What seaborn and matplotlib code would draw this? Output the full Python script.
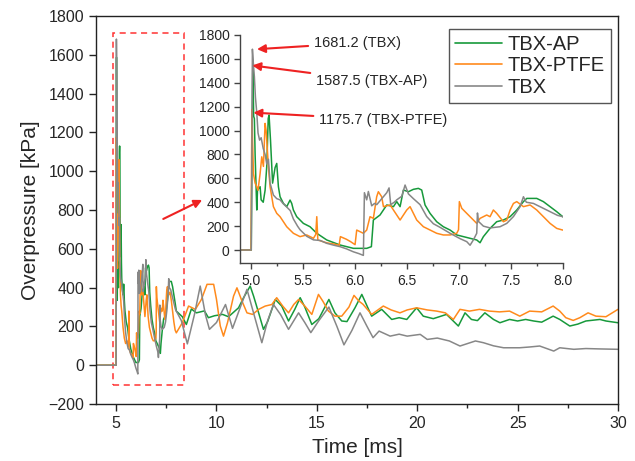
import matplotlib
matplotlib.use("Agg")
import matplotlib.pyplot as plt
import pandas as pd
import seaborn as sns
from matplotlib.patches import Rectangle
from matplotlib.ticker import MultipleLocator, FormatStrFormatter

sns.set_style("ticks")
plt.rcParams["font.family"] = ["Liberation Sans", "DejaVu Sans"]

# ---- measured overpressure traces (time in ms, pressure in kPa) ----
ap_t = [4.0, 5.005, 5.015, 5.02, 5.028, 5.035, 5.042, 5.055, 5.058, 5.065,
        5.09, 5.10, 5.12, 5.138, 5.154, 5.168, 5.176, 5.19, 5.21, 5.234,
        5.25, 5.266, 5.282, 5.314, 5.346, 5.378, 5.394, 5.41, 5.442, 5.506,
        5.57, 5.635, 5.731, 5.859, 5.987, 6.115, 6.16, 6.179, 6.243, 6.308,
        6.372, 6.404, 6.436, 6.468, 6.516, 6.564, 6.612, 6.644, 6.676, 6.724,
        6.788, 6.852, 6.917, 6.981, 7.045, 7.109, 7.173, 7.205, 7.237, 7.301,
        7.365, 7.429, 7.494, 7.558, 7.622, 7.654, 7.75, 7.814, 7.878, 7.942,
        8.0,
        8.3, 8.5, 8.75, 9.0, 9.4, 9.6, 9.9, 10.3, 10.6, 11.1,
        11.35, 11.68, 11.85, 12.1, 12.34, 12.55, 12.93, 13.25, 13.59, 13.9,
        14.17, 14.4, 14.75, 15.1, 15.6, 15.9, 16.24, 16.5, 16.9, 17.24,
        17.73, 18.23, 18.73, 19.1, 19.48, 19.97, 20.3, 20.8, 21.46, 22.05,
        22.38, 22.7, 23.0, 23.37, 23.8, 24.12, 24.6, 25.0, 25.4, 25.8,
        26.2, 26.77, 27.1, 27.6, 28.0, 28.4, 29.1, 29.4, 30.0]
ap_p = [0, 0, 1200, 1587.5, 1120, 1100, 800, 400, 335, 500,
        530, 420, 400, 500, 700, 1100, 1130, 920, 560, 690,
        725, 530, 446, 390, 363, 418, 390, 335, 279, 223,
        195, 140, 84, 42, 14, 14, 28, 251, 293, 377,
        363, 405, 363, 502, 488, 508, 516, 502, 377, 307,
        237, 195, 167, 126, 112, 98, 84, 61, 112, 181,
        237, 251, 279, 335, 405, 432, 432, 405, 363, 321,
        279,
        250, 210, 290, 270, 280, 245, 255, 262, 250, 296,
        348, 408, 356, 270, 185, 225, 339, 305, 228, 288,
        348, 300, 210, 240, 339, 270, 228, 225, 296, 365,
        253, 288, 236, 245, 236, 296, 253, 240, 262, 202,
        270, 236, 230, 270, 236, 219, 236, 228, 236, 228,
        222, 253, 236, 202, 212, 228, 236, 228, 219]

ptfe_t = [4.0, 5.003, 5.008, 5.012, 5.018, 5.026, 5.042, 5.058, 5.07, 5.09,
          5.106, 5.122, 5.138, 5.148, 5.154, 5.17, 5.186, 5.202, 5.218, 5.25,
          5.282, 5.346, 5.41, 5.474, 5.538, 5.603, 5.625, 5.635, 5.645, 5.731,
          5.80, 5.85, 5.862, 5.92, 5.96, 6.003, 6.019, 6.083, 6.115, 6.147,
          6.179, 6.211, 6.227, 6.259, 6.276, 6.34, 6.372, 6.436, 6.5, 6.532,
          6.564, 6.596, 6.66, 6.724, 6.788, 6.852, 6.917, 6.981, 6.998, 7.006,
          7.029, 7.061, 7.109, 7.173, 7.205, 7.269, 7.301, 7.333, 7.365, 7.429,
          7.462, 7.494, 7.526, 7.558, 7.622, 7.686, 7.75, 7.814, 7.878, 7.942,
          8.0,
          8.3, 8.61, 8.95, 9.25, 9.53, 9.86, 10.0, 10.19, 10.35, 10.55,
          10.85, 11.02, 11.27, 11.52, 11.8, 12.1, 12.43, 12.76, 13.0, 13.3,
          13.59, 13.85, 14.09, 14.4, 14.75, 15.08, 15.3, 15.58, 15.9, 16.24,
          16.6, 16.85, 17.1, 17.3, 17.73, 18.31, 18.7, 19.14, 19.5, 19.97,
          20.5, 20.97, 21.4, 21.8, 22.13, 22.6, 23.1, 23.6, 24.1, 24.6,
          25.11, 25.6, 26.2, 26.77, 27.1, 27.4, 27.77, 28.1, 28.51, 28.9,
          29.4, 30.0]
ptfe_p = [0, 0, 780, 1175.7, 900, 640, 560, 530, 500, 640,
          780, 700, 1060, 1000, 921, 698, 530, 446, 363, 307,
          279, 195, 140, 112, 126, 98, 130, 279, 84, 60,
          50, 40, 112, 90, 70, 45, 167, 140, 167, 279,
          265, 446, 488, 446, 363, 377, 335, 251, 335, 363,
          307, 251, 195, 167, 140, 126, 126, 140, 170, 405,
          349, 321, 279, 223, 265, 293, 279, 335, 307, 237,
          250, 335, 390, 405, 363, 377, 335, 279, 223, 181,
          167,
          219, 305, 288, 339, 417, 417, 340, 202, 150, 219,
          356, 399, 331, 270, 262, 288, 305, 313, 348, 305,
          270, 313, 339, 305, 262, 365, 330, 279, 253, 253,
          300, 360, 330, 314, 262, 305, 285, 270, 285, 296,
          285, 279, 270, 236, 288, 279, 288, 279, 275, 279,
          253, 279, 275, 305, 279, 245, 231, 245, 270, 253,
          250, 288]

tbx_t = [4.0, 5.005, 5.012, 5.016, 5.026, 5.035, 5.045, 5.058, 5.07, 5.085,
         5.10, 5.12, 5.138, 5.154, 5.17, 5.186, 5.218, 5.25, 5.282, 5.31,
         5.346, 5.38, 5.41, 5.45, 5.474, 5.538, 5.603, 5.667, 5.731, 5.80,
         5.859, 5.92, 5.987, 6.04, 6.083, 6.093, 6.115, 6.131, 6.163, 6.19,
         6.212, 6.26, 6.308, 6.33, 6.346, 6.38, 6.404, 6.452, 6.484, 6.516,
         6.564, 6.628, 6.692, 6.756, 6.82, 6.917, 7.013, 7.077, 7.109, 7.141,
         7.173, 7.18, 7.189, 7.237, 7.301, 7.397, 7.462, 7.526, 7.59, 7.622,
         7.65, 7.718, 7.846, 7.95, 8.0,
         8.25, 8.55, 8.9, 9.19, 9.45, 9.65, 10.0, 10.45, 10.8, 11.27,
         11.52, 11.9, 12.26, 12.55, 12.84, 13.2, 13.59, 14.09, 14.4, 14.7,
         15.1, 15.6, 16.0, 16.35, 16.75, 17.15, 17.5, 17.8, 18.1, 18.65,
         19.1, 19.5, 20.15, 20.5, 21.0, 21.6, 22.13, 22.9, 23.3, 23.8,
         24.3, 25.1, 25.6, 26.1, 26.45, 26.8, 27.1, 27.8, 28.4, 29.1,
         30.0]
tbx_p = [0, 0, 900, 1681.2, 1550, 1450, 1280, 1150, 980, 920,
         940, 850, 800, 720, 760, 560, 460, 430, 420, 390,
         360, 330, 260, 200, 170, 115, 85, 80, 56, 40,
         28, 10, -15, -30, -45, 480, 420, 490, 370, 390,
         380, 430, 480, 520, 380, 400, 420, 450, 544, 470,
         430, 380, 280, 220, 190, 140, 95, 70, 40, 85,
         140, 310, 240, 200, 185, 195, 223, 280, 363, 446,
         400, 390, 335, 290, 279,
         230, 110, 260, 408, 260, 185, 220, 313, 190, 322,
         391, 250, 116, 230, 313, 260, 185, 270, 220, 168,
         230, 300, 200, 105, 180, 270, 200, 142, 176, 150,
         160, 150, 159, 133, 140, 125, 99, 125, 116, 100,
         90, 90, 94, 99, 86, 73, 90, 82, 86, 84,
         82]

samples = ["TBX-AP", "TBX-PTFE", "TBX"]
colors = ["#17993b", "#ff8a1c", "#878787"]

# peak callouts in the zoomed panel: text, arrow tip (t, p), text anchor (t, p)
peak_labels = ["1681.2 (TBX)", "1587.5 (TBX-AP)", "1175.7 (TBX-PTFE)"]
peak_tips = [(5.06, 1681.2), (5.015, 1545), (5.025, 1150)]
peak_text = [(5.61, 1734), (5.63, 1415), (5.66, 1090)]

df = pd.concat([
    pd.DataFrame({"Time": t, "Overpressure": p, "Sample": name})
    for name, t, p in [("TBX-AP", ap_t, ap_p),
                       ("TBX-PTFE", ptfe_t, ptfe_p),
                       ("TBX", tbx_t, tbx_p)]
], ignore_index=True)
palette = dict(zip(samples, colors))

fig = plt.figure(figsize=(6.35, 4.61), dpi=100)

# ---- main axes ----
ax = fig.add_axes([0.1512, 0.1236, 0.822, 0.8416])
sns.lineplot(data=df, x="Time", y="Overpressure", hue="Sample",
             hue_order=samples, palette=palette, estimator=None, sort=False,
             lw=1.1, ax=ax)
ax.set_xlim(4, 30)
ax.set_ylim(-200, 1800)
ax.xaxis.set_major_locator(MultipleLocator(5))
ax.xaxis.set_minor_locator(MultipleLocator(2.5))
ax.yaxis.set_major_locator(MultipleLocator(200))
ax.tick_params(which="both", direction="out", top=False, right=False,
               labelsize=11.5, width=1, color="#222222")
ax.tick_params(which="major", length=5)
ax.tick_params(which="minor", length=3)
for s in ax.spines.values():
    s.set_color("#222222")
    s.set_linewidth(1.0)
ax.set_xlabel("Time [ms]", fontsize=15, labelpad=5)
ax.set_ylabel("Overpressure [kPa]", fontsize=15, labelpad=6)

handles, labels = ax.get_legend_handles_labels()
ax.get_legend().remove()

# dashed box marking the zoomed window
ax.add_patch(Rectangle((4.83, -102), 3.53, 1816, fill=False,
                       edgecolor="#ff3333", linestyle=(0, (4, 3)), lw=1.1))
ax.annotate("", xy=(9.29, 852), xytext=(7.35, 754),
            arrowprops=dict(arrowstyle="-|>", color="#ee2222", lw=1.5,
                            mutation_scale=12, shrinkA=0, shrinkB=0))

# ---- zoomed panel ----
ax_in = fig.add_axes([0.378, 0.4289, 0.5082, 0.4952])
ax_in.patch.set_alpha(0)
sns.lineplot(data=df, x="Time", y="Overpressure", hue="Sample",
             hue_order=samples, palette=palette, estimator=None, sort=False,
             lw=1.1, ax=ax_in, legend=False)
ax_in.set_xlim(4.897, 8.0)
ax_in.set_ylim(-111, 1800)
ax_in.xaxis.set_major_locator(MultipleLocator(0.5))
ax_in.xaxis.set_minor_locator(MultipleLocator(0.25))
ax_in.xaxis.set_major_formatter(FormatStrFormatter("%.1f"))
ax_in.yaxis.set_major_locator(MultipleLocator(200))
ax_in.set_xlabel("")
ax_in.set_ylabel("")
ax_in.spines["top"].set_visible(False)
ax_in.spines["right"].set_visible(False)
for side in ("left", "bottom"):
    ax_in.spines[side].set_color("#444444")
    ax_in.spines[side].set_linewidth(1.0)
ax_in.tick_params(which="both", direction="out", labelsize=10,
                  width=1, color="#444444")
ax_in.tick_params(which="major", length=4)
ax_in.tick_params(which="minor", length=2.5)

for text, tip, pos in zip(peak_labels, peak_tips, peak_text):
    ax_in.annotate(text, xy=tip, xytext=pos, ha="left", va="center",
                   fontsize=10.5,
                   arrowprops=dict(arrowstyle="-|>", color="#ee2222", lw=1.5,
                                   mutation_scale=12, shrinkA=2, shrinkB=0))

# legend drawn at figure level so it sits above both panels
leg = fig.legend(handles, labels, loc="upper right",
                 bbox_to_anchor=(611 / 635, 1 - 29 / 461),
                 bbox_transform=fig.transFigure, fontsize=14.5,
                 frameon=True, fancybox=False, edgecolor="#555555",
                 framealpha=1, handlelength=2.3, handletextpad=0.3,
                 labelspacing=0.12, borderpad=0.3, borderaxespad=0)
leg.get_frame().set_linewidth(1.0)
for line in leg.get_lines():
    line.set_linewidth(1.2)

fig.savefig("out.png", dpi=100)
